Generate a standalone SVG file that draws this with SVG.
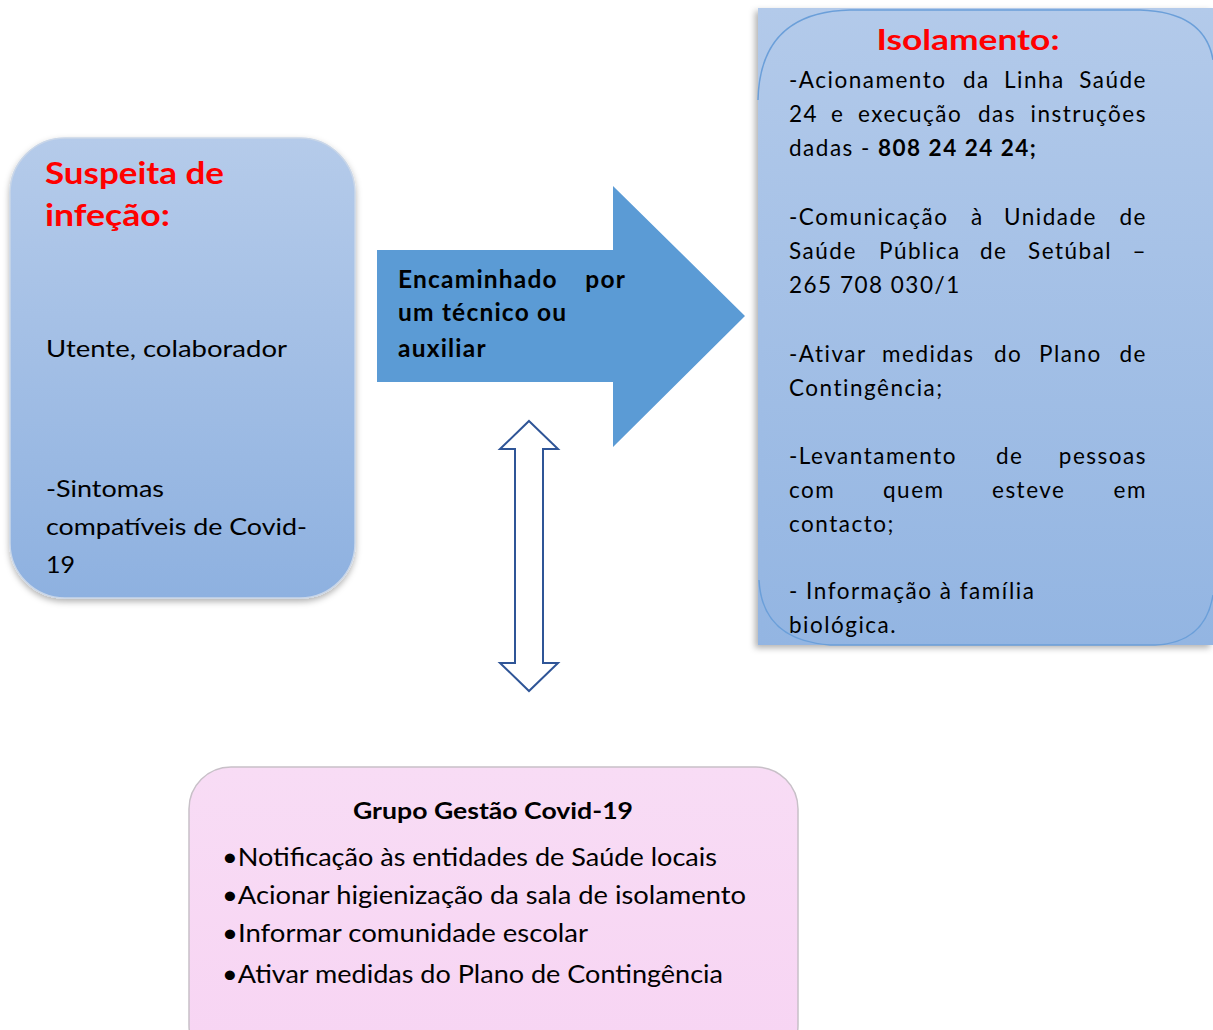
<svg xmlns="http://www.w3.org/2000/svg" width="1213" height="1030" viewBox="0 0 1213 1030">
<defs>
<linearGradient id="gBlue" x1="0" y1="0" x2="0" y2="1">
<stop offset="0" stop-color="#b5cbea"/>
<stop offset="1" stop-color="#8eb1e0"/>
</linearGradient>
<linearGradient id="gBlue2" x1="0" y1="0" x2="0" y2="1">
<stop offset="0" stop-color="#b3caea"/>
<stop offset="1" stop-color="#93b5e2"/>
</linearGradient>
<linearGradient id="gPink" x1="0" y1="0" x2="0" y2="1">
<stop offset="0" stop-color="#f8dcf5"/>
<stop offset="1" stop-color="#f7d4f3"/>
</linearGradient>
<filter id="sh" x="-10%" y="-10%" width="120%" height="120%">
<feDropShadow dx="0" dy="3" stdDeviation="3" flood-color="#000" flood-opacity="0.3"/>
</filter>
<filter id="shL" x="-10%" y="-10%" width="120%" height="120%">
<feDropShadow dx="-3" dy="3" stdDeviation="3" flood-color="#000" flood-opacity="0.3"/>
</filter>
<style>
.t{font-family:Lato,"Open Sans","Liberation Sans",sans-serif;fill:#000}
.b{font-weight:bold}
.red{fill:#ff0000;font-weight:bold}
.r{font-size:22.5px;letter-spacing:1.5px}
.a{font-size:24.5px;font-weight:bold;letter-spacing:1.2px}
</style>
</defs>

<g id="suspeita">
<rect x="10" y="138" width="345" height="460" rx="55" fill="url(#gBlue)" stroke="#c9d6e8" stroke-width="1.5" filter="url(#sh)"/>
<text class="t red" x="45" y="184" font-size="31" textLength="179" lengthAdjust="spacingAndGlyphs">Suspeita de</text>
<text class="t red" x="45" y="226" font-size="31" textLength="125" lengthAdjust="spacingAndGlyphs">infeção:</text>
<text class="t" x="46" y="357" font-size="23" textLength="241" lengthAdjust="spacingAndGlyphs">Utente, colaborador</text>
<text class="t" x="46" y="497" font-size="23" textLength="118" lengthAdjust="spacingAndGlyphs">-Sintomas</text>
<text class="t" x="46" y="535" font-size="23" textLength="261" lengthAdjust="spacingAndGlyphs">compatíveis de Covid-</text>
<text class="t" x="46" y="573" font-size="23" textLength="29" lengthAdjust="spacingAndGlyphs">19</text>
</g>

<g id="isolamento">
<rect x="758" y="8" width="455" height="637" fill="url(#gBlue2)" filter="url(#shL)"/>
<path d="M 758 100 Q 760 12 850 10 L 1140 10 Q 1205 12 1213 60 M 1213 595 Q 1205 643 1155 645 L 830 645 Q 762 640 759 580" fill="none" stroke="#6b9fd9" stroke-width="1.5"/>
<text class="t red" x="968" y="50" font-size="29" text-anchor="middle" textLength="183" lengthAdjust="spacingAndGlyphs">Isolamento:</text>
<g class="t r">
<text y="88"><tspan x="789">-Acionamento</tspan><tspan x="963">da</tspan><tspan x="1004">Linha</tspan><tspan x="1147" text-anchor="end">Saúde</tspan></text>
<text y="122"><tspan x="789">24</tspan><tspan x="831">e</tspan><tspan x="858">execução</tspan><tspan x="978">das</tspan><tspan x="1147" text-anchor="end">instruções</tspan></text>
<text y="156"><tspan x="789">dadas - </tspan><tspan x="878" class="b">808 24 24 24;</tspan></text>
<text y="225"><tspan x="789">-Comunicação</tspan><tspan x="971">à</tspan><tspan x="1004">Unidade</tspan><tspan x="1147" text-anchor="end">de</tspan></text>
<text y="259"><tspan x="789">Saúde</tspan><tspan x="879">Pública</tspan><tspan x="980">de</tspan><tspan x="1028">Setúbal</tspan><tspan x="1147" text-anchor="end">–</tspan></text>
<text y="293" x="789">265 708 030/1</text>
<text y="362"><tspan x="789">-Ativar</tspan><tspan x="882">medidas</tspan><tspan x="994">do</tspan><tspan x="1039">Plano</tspan><tspan x="1147" text-anchor="end">de</tspan></text>
<text y="396" x="789">Contingência;</text>
<text y="464"><tspan x="789">-Levantamento</tspan><tspan x="996">de</tspan><tspan x="1147" text-anchor="end">pessoas</tspan></text>
<text y="498"><tspan x="789">com</tspan><tspan x="883">quem</tspan><tspan x="992">esteve</tspan><tspan x="1147" text-anchor="end">em</tspan></text>
<text y="532" x="789">contacto;</text>
<text y="599" x="789">- Informação à família</text>
<text y="633" x="789">biológica.</text>
</g>
</g>

<g id="encaminhado">
<polygon points="377,250 613,250 613,186 745,316 613,447 613,382 377,382" fill="#5b9bd5"/>
<g class="t a">
<text y="288"><tspan x="398">Encaminhado</tspan><tspan x="626" text-anchor="end">por</tspan></text>
<text x="398" y="321">um técnico ou</text>
<text x="398" y="357">auxiliar</text>
</g>
</g>

<g id="grupo">
<rect x="189" y="767" width="609" height="300" rx="42" fill="url(#gPink)" stroke="#c8c0c8" stroke-width="1.5"/>
<text class="t b" x="493" y="819" font-size="23" text-anchor="middle" textLength="280" lengthAdjust="spacingAndGlyphs">Grupo Gestão Covid-19</text>
<g class="t" font-size="25">
<text x="222" y="866" textLength="495" lengthAdjust="spacingAndGlyphs">•Notificação às entidades de Saúde locais</text>
<text x="222" y="904" textLength="524" lengthAdjust="spacingAndGlyphs">•Acionar higienização da sala de isolamento</text>
<text x="222" y="942" textLength="366" lengthAdjust="spacingAndGlyphs">•Informar comunidade escolar</text>
<text x="222" y="983" textLength="501" lengthAdjust="spacingAndGlyphs">•Ativar medidas do Plano de Contingência</text>
</g>
</g>

<g id="connectors">
<polygon points="529,421 558,449 543,449 543,663 558,663 529,691 500,663 515,663 515,449 500,449" fill="#fff" stroke="#2f5597" stroke-width="2" stroke-linejoin="miter"/>
</g>
</svg>
